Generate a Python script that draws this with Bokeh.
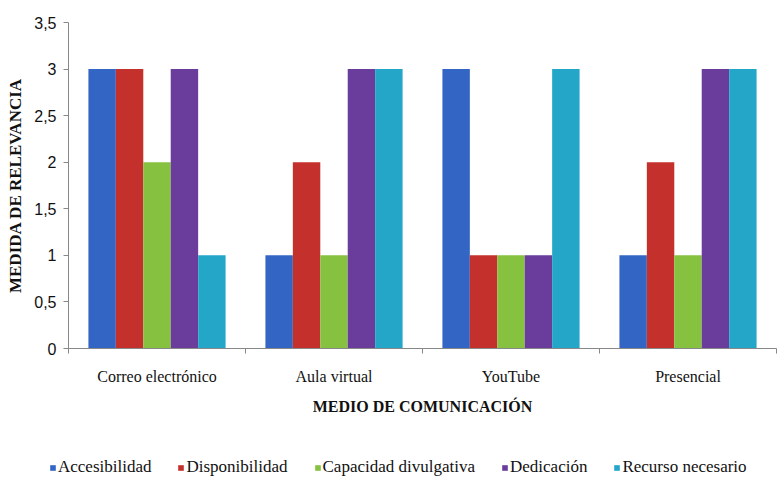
from bokeh.plotting import figure
from bokeh.layouts import column
from bokeh.models import FixedTicker, Legend, LegendItem, ColumnDataSource
from bokeh.embed import file_html
from bokeh.resources import INLINE

categories = ["Correo electrónico", "Aula virtual", "YouTube", "Presencial"]
series = ["Accesibilidad", "Disponibilidad", "Capacidad divulgativa", "Dedicación", "Recurso necesario"]
accesibilidad = [3, 1, 3, 1]
disponibilidad = [3, 2, 1, 2]
capacidad = [2, 1, 1, 1]
dedicacion = [3, 3, 1, 3]
recurso = [1, 3, 3, 3]
colors = ["#3366C4", "#C4302B", "#86C13F", "#6A3C9C", "#23A6C8"]
y_ticks = [0, 0.5, 1, 1.5, 2, 2.5, 3, 3.5]

values = [accesibilidad, disponibilidad, capacidad, dedicacion, recurso]

p = figure(frame_width=708, frame_height=326, x_range=(0, 4), y_range=(0, 3.5),
           output_backend="svg", toolbar_location=None,
           min_border_left=68, min_border_top=22, min_border_right=2, min_border_bottom=70)
p.outline_line_color = None
p.xgrid.visible = False
p.ygrid.visible = False

bw = 0.155
centers = [i + 0.5 for i in range(len(categories))]
for k, (name, vals, col) in enumerate(zip(series, values, colors)):
    off = (k - 2) * bw
    src = ColumnDataSource(dict(x=[c + off for c in centers], top=vals))
    p.vbar(x="x", top="top", width=bw, source=src, fill_color=col, line_color=None)

# x axis
p.xaxis.ticker = FixedTicker(ticks=centers, minor_ticks=list(range(len(categories) + 1)))
p.xaxis.major_label_overrides = {c: lab for c, lab in zip(centers, categories)}
p.xaxis.major_tick_out = 0
p.xaxis.major_tick_in = 0
p.xaxis.minor_tick_out = 5
p.xaxis.minor_tick_in = 0
p.xaxis.minor_tick_line_color = "#888888"
p.xaxis.axis_line_color = "#888888"
p.xaxis.major_label_text_font = "Liberation Serif"
p.xaxis.major_label_text_font_size = "16px"
p.xaxis.major_label_text_color = "#111111"
p.xaxis.major_label_standoff = 14
p.xaxis.axis_label = "MEDIO DE COMUNICACIÓN"
p.xaxis.axis_label_text_font = "Liberation Serif"
p.xaxis.axis_label_text_font_style = "bold"
p.xaxis.axis_label_text_font_size = "16px"
p.xaxis.axis_label_text_color = "#111111"
p.xaxis.axis_label_standoff = 10

# y axis
p.yaxis.ticker = FixedTicker(ticks=y_ticks, minor_ticks=[])
p.yaxis.major_label_overrides = {t: str(t).replace(".0", "").replace(".", ",") for t in y_ticks}
p.yaxis.major_tick_out = 5
p.yaxis.major_tick_in = 0
p.yaxis.major_tick_line_color = "#888888"
p.yaxis.axis_line_color = "#888888"
p.yaxis.major_label_text_font = "Liberation Sans"
p.yaxis.major_label_text_font_size = "16px"
p.yaxis.major_label_text_color = "#111111"
p.yaxis.major_label_standoff = 7
p.yaxis.axis_label = "MEDIDA DE RELEVANCIA"
p.yaxis.axis_label_text_font = "Liberation Serif"
p.yaxis.axis_label_text_font_style = "bold"
p.yaxis.axis_label_text_font_size = "17px"
p.yaxis.axis_label_text_color = "#111111"
p.yaxis.axis_label_standoff = 6

# legend strip
leg = figure(frame_width=778, frame_height=59, x_range=(0, 1), y_range=(0, 1),
             output_backend="svg", toolbar_location=None,
             min_border_left=0, min_border_right=0, min_border_top=0, min_border_bottom=0)
leg.axis.visible = False
leg.grid.visible = False
leg.outline_line_color = None
items = []
for name, col in zip(series, colors):
    r = leg.vbar(x=[-5], top=[-5], bottom=[-6], width=0.1, fill_color=col, line_color=None)
    items.append(LegendItem(label=name, renderers=[r]))
legend = Legend(items=items, orientation="horizontal", location=(49, 0),
                glyph_width=7, glyph_height=7, spacing=26, padding=0, margin=0,
                label_text_font="Liberation Serif", label_text_font_size="17px",
                label_text_color="#111111", label_standoff=2,
                border_line_color=None, background_fill_alpha=0)
leg.add_layout(legend, "center")

layout = column(p, leg, spacing=0)
open("out.html", "w").write(file_html(layout, INLINE))
